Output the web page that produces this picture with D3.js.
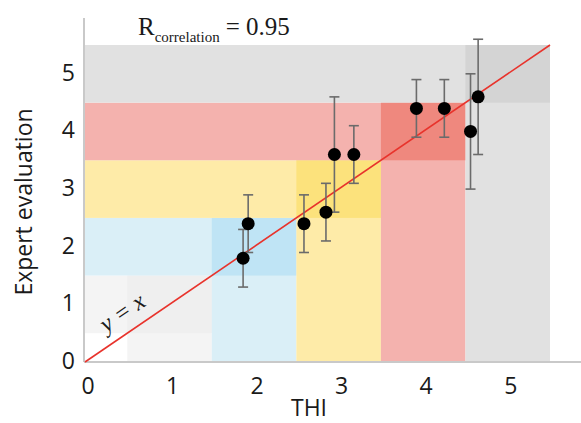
<!DOCTYPE html>
<html>
<head>
<meta charset="utf-8">
<script src="https://cdn.jsdelivr.net/npm/d3@7"></script>
<style>
  body { margin: 0; background: #fff; }
  svg { display: block; }
</style>
</head>
<body>
<svg id="chart"></svg>
<script>
const width = 581;
const height = 423;

// data
const thi = [1.87, 1.93, 2.59, 2.85, 2.95, 3.18, 3.92, 4.25, 4.56, 4.65];
const expert = [1.8, 2.4, 2.4, 2.6, 3.6, 3.6, 4.4, 4.4, 4.0, 4.6];
const errors = [0.5, 0.5, 0.5, 0.5, 1.0, 0.5, 0.5, 0.5, 1.0, 1.0];

const classes = [1, 2, 3, 4, 5];
const lightColors = ["#f4f4f4", "#daeff7", "#feeba8", "#f4b2ae", "#e1e1e1"];
const darkColors = ["#efefef", "#bfe4f5", "#fce27c", "#ef887e", "#d4d4d4"];

const ticks = [0, 1, 2, 3, 4, 5];
const rValue = "0.95";

const svg = d3.select("#chart").attr("width", width).attr("height", height);

const x = d3.scaleLinear().domain([0, 5.5]).range([85, 550]);
const y = d3.scaleLinear().domain([0, 5.5]).range([362, 45]);

const bg = svg.append("g");

// L-shaped class bands, darker square where they cross
classes.forEach((k, i) => {
  const lo = k - 0.5, hi = k + 0.5;
  // horizontal band
  bg.append("rect")
    .attr("x", x(0)).attr("y", y(hi))
    .attr("width", x(hi) - x(0)).attr("height", y(lo) - y(hi))
    .attr("fill", lightColors[i]);
  // vertical band
  bg.append("rect")
    .attr("x", x(lo)).attr("y", y(hi))
    .attr("width", x(hi) - x(lo)).attr("height", y(0) - y(hi))
    .attr("fill", lightColors[i]);
  // overlap square
  bg.append("rect")
    .attr("x", x(lo)).attr("y", y(hi))
    .attr("width", x(hi) - x(lo)).attr("height", y(lo) - y(hi))
    .attr("fill", darkColors[i]);
});

// axes lines
svg.append("line")
  .attr("x1", 84).attr("x2", 84).attr("y1", 18).attr("y2", y(0))
  .attr("stroke", "#c9c9c9").attr("stroke-width", 2);
svg.append("line")
  .attr("x1", 84).attr("x2", width).attr("y1", y(0)).attr("y2", y(0))
  .attr("stroke", "#c9c9c9").attr("stroke-width", 2);

// y = x line
svg.append("line")
  .attr("x1", x(0)).attr("y1", y(0)).attr("x2", x(5.5)).attr("y2", y(5.5))
  .attr("stroke", "#e8332c").attr("stroke-width", 1.6);

const angle = Math.atan2(y(1) - y(0), x(1) - x(0)) * 180 / Math.PI;
svg.append("text")
  .attr("transform", `translate(${x(0.44)},${y(0.86)}) rotate(${angle})`)
  .attr("text-anchor", "middle")
  .attr("dominant-baseline", "central")
  .attr("font-family", "Liberation Serif, serif")
  .attr("font-style", "italic")
  .attr("font-size", 24)
  .attr("fill", "#1a1a1a")
  .text("y = x");

// error bars
const eb = svg.append("g").attr("stroke", "#6b6b6b").attr("stroke-width", 1.6);
thi.forEach((t, i) => {
  const cx = x(t);
  const top = y(expert[i] + errors[i]);
  const bot = y(expert[i] - errors[i]);
  eb.append("line").attr("x1", cx).attr("x2", cx).attr("y1", top).attr("y2", bot);
  eb.append("line").attr("x1", cx - 5).attr("x2", cx + 5).attr("y1", top).attr("y2", top);
  eb.append("line").attr("x1", cx - 5).attr("x2", cx + 5).attr("y1", bot).attr("y2", bot);
});

// points
svg.append("g")
  .selectAll("circle")
  .data(thi)
  .enter()
  .append("circle")
  .attr("cx", d => x(d))
  .attr("cy", (d, i) => y(expert[i]))
  .attr("r", 6.5)
  .attr("fill", "#000");

// tick labels
const font = "Open Sans, sans-serif";
svg.append("g")
  .selectAll("text")
  .data(ticks)
  .enter()
  .append("text")
  .attr("x", 75)
  .attr("y", d => y(d) - 2)
  .attr("text-anchor", "end")
  .attr("dominant-baseline", "central")
  .attr("font-family", font)
  .attr("font-size", 23)
  .attr("fill", "#1a1a1a")
  .text(d => d);

svg.append("g")
  .selectAll("text")
  .data(ticks)
  .enter()
  .append("text")
  .attr("x", d => x(d) + 3)
  .attr("y", 385)
  .attr("text-anchor", "middle")
  .attr("dominant-baseline", "central")
  .attr("font-family", font)
  .attr("font-size", 23)
  .attr("fill", "#1a1a1a")
  .text(d => d);

// axis titles
svg.append("text")
  .attr("x", 309).attr("y", 416)
  .attr("text-anchor", "middle")
  .attr("font-family", font)
  .attr("font-size", 23)
  .attr("fill", "#1a1a1a")
  .text("THI");

svg.append("text")
  .attr("transform", "translate(32,202) rotate(-90)")
  .attr("text-anchor", "middle")
  .attr("font-family", font)
  .attr("font-size", 23)
  .attr("fill", "#1a1a1a")
  .text("Expert evaluation");

// correlation label
const title = svg.append("text")
  .attr("x", 138).attr("y", 35)
  .attr("font-family", "Liberation Serif, serif")
  .attr("font-size", 25)
  .attr("fill", "#1a1a1a");
title.append("tspan").text("R");
title.append("tspan").attr("font-size", 15).attr("dy", 7).text("correlation");
title.append("tspan").attr("dy", -7).attr("dx", 6).text("= " + rValue);
</script>
</body>
</html>
